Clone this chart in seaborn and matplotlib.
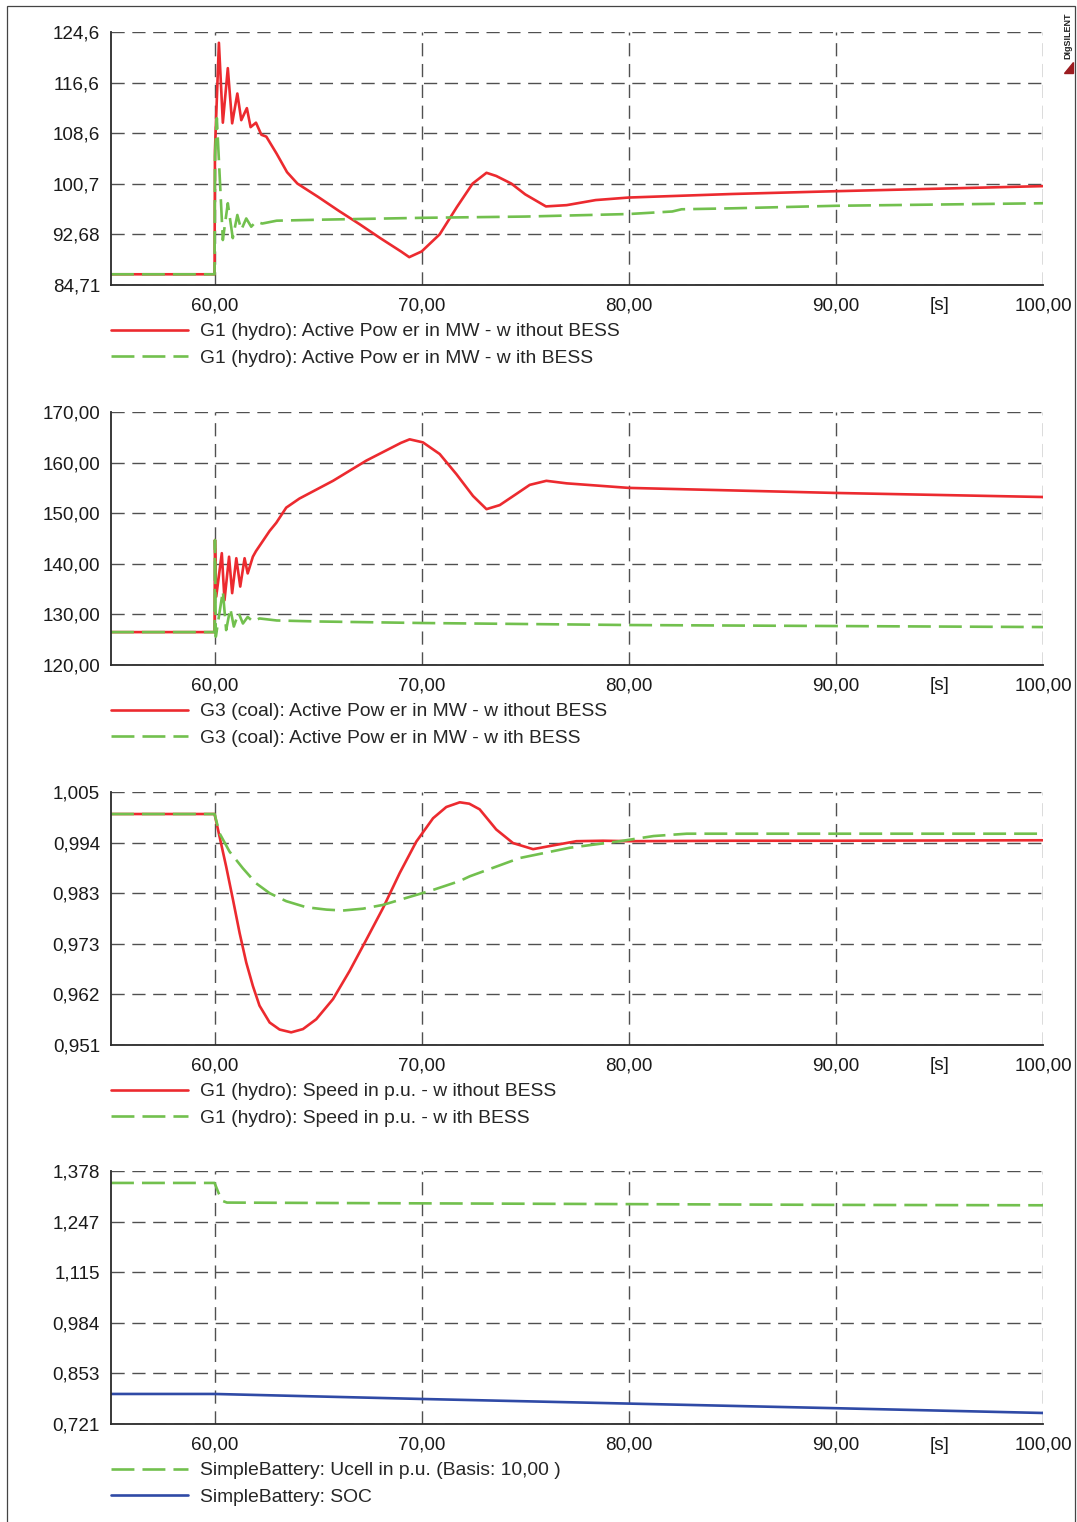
import numpy as np
import pandas as pd
import matplotlib
matplotlib.use('Agg')
import matplotlib.pyplot as plt
from matplotlib.patches import Rectangle, Polygon
import seaborn as sns

# time axis (s)
x_ticks = [60, 70, 80, 90, 100]
x_tick_labels = ['60,00', '70,00', '80,00', '90,00', '100,00']
x_minor = [65, 75, 85, 95]
x_minor_labels = ['', '', '', '[s]']

# --- G1 (hydro) active power in MW
g1p_t_wo = [55, 60.0, 60.02, 60.21, 60.4, 60.64, 60.85, 61.1, 61.29, 61.56, 61.74, 62.0,
            62.26, 62.5, 63.0, 63.5, 64.0, 65, 66, 67, 68, 69, 69.4, 70.0, 70.87, 71.7,
            72.46, 73.13, 73.6, 74.33, 75.0, 76.0, 77.0, 78.4, 80, 85, 90, 95, 100]
g1p_wo = [86.4, 86.4, 106.0, 122.9, 110.3, 118.9, 110.2, 114.9, 110.7, 112.6, 109.6, 110.3,
          108.4, 108.1, 105.4, 102.5, 100.7, 98.6, 96.4, 94.3, 92.1, 90.0, 89.1, 90.0, 92.7, 97.0,
          100.7, 102.4, 101.9, 100.7, 99.0, 97.1, 97.3, 98.1, 98.5, 99.06, 99.5, 99.9, 100.3]
g1p_t_w = [55, 60.0, 60.02, 60.11, 60.4, 60.64, 60.88, 61.1, 61.29, 61.53, 61.77, 62.0,
           62.3, 63.0, 65, 70, 75, 80, 82.1, 82.55, 85, 90, 95, 100]
g1p_w = [86.4, 86.4, 105.0, 111.0, 91.8, 97.6, 92.1, 95.75, 93.4, 95.2, 93.9, 94.7,
         94.4, 94.85, 95.0, 95.3, 95.5, 95.9, 96.3, 96.65, 96.8, 97.2, 97.4, 97.6]

# --- G3 (coal) active power in MW
g3p_t_wo = [55, 60.0, 60.02, 60.08, 60.35, 60.48, 60.7, 60.85, 61.05, 61.24, 61.45, 61.6,
            61.85, 62.0, 62.33, 62.66, 62.98, 63.46, 64.1, 65.72, 67.33, 69.0, 69.42, 70.06, 70.87,
            71.68, 72.48, 73.13, 73.77, 74.57, 75.22, 76.02, 77.0, 80, 85, 90, 95, 100]
g3p_wo = [126.5, 126.5, 144.7, 133.5, 142.1, 132.8, 141.4, 134.2, 141.1, 135.5, 141.1, 138.1,
          141.4, 142.5, 144.5, 146.5, 148.1, 151.1, 152.9, 156.4, 160.4, 163.9, 164.6, 164.0, 161.7,
          157.7, 153.4, 150.8, 151.6, 153.8, 155.6, 156.4, 155.9, 155.0, 154.5, 154.0, 153.6, 153.2]
g3p_t_w = [55, 60.0, 60.02, 60.06, 60.4, 60.56, 60.76, 60.93, 61.16, 61.37, 61.6, 61.85,
           62.17, 63, 65, 70, 80, 90, 100]
g3p_w = [126.5, 126.5, 144.7, 125.6, 134.6, 126.9, 131.2, 127.6, 130.3, 128.2, 129.5, 128.6,
         129.2, 128.8, 128.6, 128.3, 127.9, 127.7, 127.5]

# --- G1 (hydro) speed in p.u.
spd_t_wo = [55, 60.0, 60.24, 60.56, 60.89, 61.21, 61.53, 61.85, 62.17, 62.66, 63.14, 63.7,
            64.27, 64.91, 65.72, 66.52, 67.33, 68.13, 68.94, 69.74, 70.55, 71.19, 71.84, 72.3,
            72.8, 73.6, 74.41, 75.38, 76.35, 77.47, 78.76, 80, 85, 90, 100]
spd_wo = [1.0003, 1.0003, 0.9955, 0.9891, 0.9820, 0.9749, 0.9686, 0.9636, 0.9594, 0.9558, 0.9543,
          0.9537, 0.9544, 0.9565, 0.9608, 0.9668, 0.9735, 0.9802, 0.9877, 0.9944, 0.9994, 1.0018,
          1.0028, 1.0025, 1.0013, 0.9970, 0.9941, 0.9928, 0.9936, 0.9945, 0.9946, 0.9945, 0.9946,
          0.9946, 0.9947]
spd_t_w = [55, 60.0, 60.24, 60.72, 61.37, 62.01, 62.66, 63.46, 64.43, 65.4, 66.2, 67.17,
           68.13, 69.26, 70.55, 71.84, 72.32, 74.73, 77.15, 79.57, 81.2, 82.8, 84.4, 100]
spd_w = [1.0003, 1.0003, 0.9962, 0.9923, 0.9887, 0.9855, 0.9834, 0.9817, 0.9804, 0.9799, 0.9797,
         0.9801, 0.9809, 0.9824, 0.9841, 0.9860, 0.9870, 0.9909, 0.9931, 0.9945, 0.9956, 0.9961,
         0.9961, 0.9961]

# --- SimpleBattery
uc_t = [55, 60.0, 60.2, 60.4, 60.6, 65, 70, 80, 90, 100]
ucell = [1.347, 1.347, 1.320, 1.300, 1.296, 1.295, 1.294, 1.292, 1.290, 1.289]
soc_t = [55, 60, 70, 80, 90, 100]
soc = [0.799, 0.799, 0.786, 0.774, 0.762, 0.7496]

# axis ranges / tick labels
ylims = [(84.71, 124.6), (120.0, 170.0), (0.951, 1.005), (0.721, 1.378)]
ytick_labels = [
    ['84,71', '92,68', '100,7', '108,6', '116,6', '124,6'],
    ['120,00', '130,00', '140,00', '150,00', '160,00', '170,00'],
    ['0,951', '0,962', '0,973', '0,983', '0,994', '1,005'],
    ['0,721', '0,853', '0,984', '1,115', '1,247', '1,378'],
]

RED = '#ec2a2f'
GREEN = '#72c04e'
BLUE = '#2f4aa6'

sns.set_style('white')
plt.rcParams['font.family'] = ['Liberation Sans', 'DejaVu Sans']
plt.rcParams['lines.scale_dashes'] = False
FS = 13.6

W, H = 1077, 1522
fig = plt.figure(figsize=(W / 100, H / 100), dpi=100)

left, right = 111 / W, 1043 / W
tops = [32, 412, 792, 1171]
axh = 253

panels = [
    [(g1p_t_wo, g1p_wo, RED, '-', 'G1 (hydro): Active Pow er in MW - w ithout BESS'),
     (g1p_t_w, g1p_w, GREEN, '--', 'G1 (hydro): Active Pow er in MW - w ith BESS')],
    [(g3p_t_wo, g3p_wo, RED, '-', 'G3 (coal): Active Pow er in MW - w ithout BESS'),
     (g3p_t_w, g3p_w, GREEN, '--', 'G3 (coal): Active Pow er in MW - w ith BESS')],
    [(spd_t_wo, spd_wo, RED, '-', 'G1 (hydro): Speed in p.u. - w ithout BESS'),
     (spd_t_w, spd_w, GREEN, '--', 'G1 (hydro): Speed in p.u. - w ith BESS')],
    [(uc_t, ucell, GREEN, '--', 'SimpleBattery: Ucell in p.u. (Basis: 10,00 )'),
     (soc_t, soc, BLUE, '-', 'SimpleBattery: SOC')],
]

for i, series in enumerate(panels):
    ax = fig.add_axes([left, 1 - (tops[i] + axh) / H, right - left, axh / H])
    handles = []
    for t, v, col, ls, lab in series:
        sns.lineplot(x=t, y=v, ax=ax, color=col, lw=1.9, errorbar=None, legend=False)
        ln = ax.lines[-1]
        if ls == '--':
            ln.set_linestyle((0, (16.5, 5.8)))
        handles.append((ln, lab))

    lo, hi = ylims[i]
    ax.set_xlim(55, 100)
    ax.set_ylim(lo, hi)
    yt = np.linspace(lo, hi, 6)
    ax.set_yticks(yt, ytick_labels[i], fontsize=FS)
    ax.set_yticks((yt[:-1] + yt[1:]) / 2, minor=True)
    ax.set_xticks(x_ticks, x_tick_labels, fontsize=FS)
    ax.set_xticks(x_minor, x_minor_labels, minor=True, fontsize=FS)
    ax.set_xlabel('')
    ax.set_ylabel('')

    ax.set_axisbelow(True)
    ax.grid(True, which='major', color='#505050', lw=1.0, linestyle=(0, (9.5, 5.5)))
    for s in ['top', 'right']:
        ax.spines[s].set_visible(False)
    for s in ['left', 'bottom']:
        ax.spines[s].set_color('#2a2a2a')
        ax.spines[s].set_linewidth(1.3)
    ax.tick_params(which='both', direction='in', color='#2a2a2a', labelcolor='#1a1a1a',
                   labelsize=FS)
    ax.tick_params(which='major', length=7, width=1.2)
    ax.tick_params(which='minor', length=4, width=1.0)
    ax.tick_params(axis='x', which='both', pad=9)
    ax.tick_params(axis='y', which='both', pad=8)

    ax.legend([h for h, _ in handles], [l for _, l in handles], loc='upper left',
              bbox_to_anchor=(0, -0.15), frameon=False, fontsize=13.9, borderpad=0,
              borderaxespad=0, handlelength=4.0, handletextpad=0.62, labelspacing=0.47)

# outer frame
fig.add_artist(Rectangle((7 / W, -0.01), (1075 - 7) / W, 1 - 6 / H + 0.01,
                         transform=fig.transFigure, fill=False, ec='#444444', lw=0.9))

# DIgSILENT mark
fig.text(1068 / W, 1 - 36 / H, 'DIgSILENT', rotation=90, fontsize=6.5, weight='bold',
         ha='center', va='center', color='#222222')
fig.add_artist(Polygon([[1073 / W, 1 - 62 / H], [1073 / W, 1 - 73 / H], [1064 / W, 1 - 73 / H]],
                       closed=True, transform=fig.transFigure, color='#9b1c20'))

fig.savefig('out.png', dpi=100)
